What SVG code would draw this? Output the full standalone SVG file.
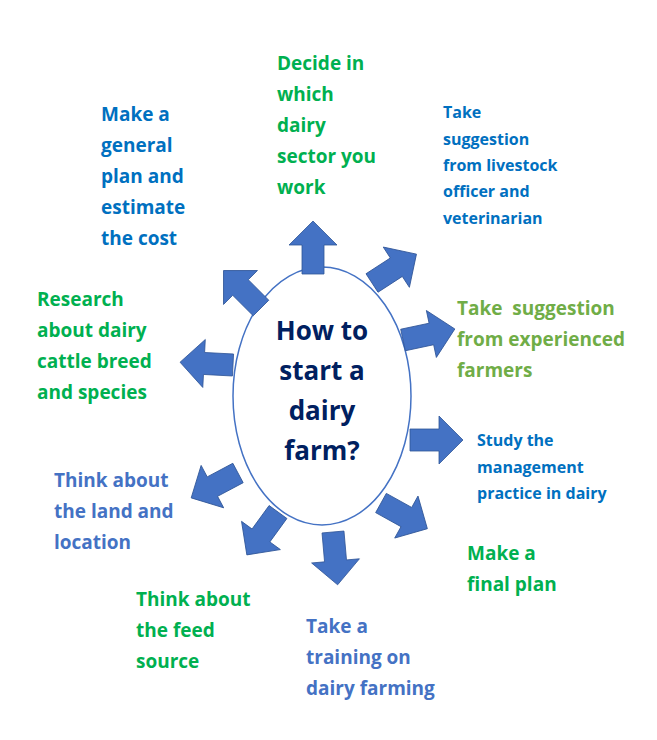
<svg xmlns="http://www.w3.org/2000/svg" width="657" height="740" viewBox="0 0 657 740">
<defs>
<polygon id="arr" points="0,-11 29,-11 29,-24 53,0 29,24 29,11 0,11"/>
<style>
text{font-family:"Open Sans","Liberation Sans",sans-serif;font-weight:bold}
.l{font-size:19px}.s{font-size:16px}
.b{fill:#0070C0}.g{fill:#00B050}.lg{fill:#70AD47}.sb{fill:#4472C4}
.a{fill:#4472C4;stroke:#2F5597;stroke-width:0.8}
</style>
</defs>
<rect width="657" height="740" fill="#fff"/>
<g id="center">
<ellipse cx="322" cy="396" rx="89" ry="129" fill="#fff" stroke="#4472C4" stroke-width="1.5"/>
<text x="322" y="340" text-anchor="middle" font-size="26" fill="#002060">How to</text>
<text x="322" y="380" text-anchor="middle" font-size="26" fill="#002060">start a</text>
<text x="322" y="420" text-anchor="middle" font-size="26" fill="#002060">dairy</text>
<text x="322" y="460" text-anchor="middle" font-size="26" fill="#002060">farm?</text>
</g>
<g id="connectors">
<use href="#arr" class="a" transform="translate(313,274) rotate(-90)"/>
<use href="#arr" class="a" transform="translate(372,283) rotate(-33)"/>
<use href="#arr" class="a" transform="translate(403,340) rotate(-12)"/>
<use href="#arr" class="a" transform="translate(410,440)"/>
<use href="#arr" class="a" transform="translate(381,503) rotate(29)"/>
<use href="#arr" class="a" transform="translate(333,532) rotate(85)"/>
<use href="#arr" class="a" transform="translate(278,512) rotate(126)"/>
<use href="#arr" class="a" transform="translate(238,473) rotate(152)"/>
<use href="#arr" class="a" transform="translate(233,365) rotate(183)"/>
<use href="#arr" class="a" transform="translate(261,308) rotate(225)"/>
</g>
<g id="n1"><text class="l g" x="277"><tspan x="277" y="70">Decide in</tspan><tspan x="277" y="101">which</tspan><tspan x="277" y="132">dairy</tspan><tspan x="277" y="163">sector you</tspan><tspan x="277" y="194">work</tspan></text></g>
<g id="n2"><text class="l b"><tspan x="101" y="121">Make a</tspan><tspan x="101" y="152">general</tspan><tspan x="101" y="183">plan and</tspan><tspan x="101" y="214">estimate</tspan><tspan x="101" y="245">the cost</tspan></text></g>
<g id="n3"><text class="s b"><tspan x="443" y="118">Take</tspan><tspan x="443" y="145">suggestion</tspan><tspan x="443" y="171">from livestock</tspan><tspan x="443" y="197">officer and</tspan><tspan x="443" y="224">veterinarian</tspan></text></g>
<g id="n4"><text class="l g"><tspan x="37" y="306">Research</tspan><tspan x="37" y="337">about dairy</tspan><tspan x="37" y="368">cattle breed</tspan><tspan x="37" y="399">and species</tspan></text></g>
<g id="n5"><text class="l lg"><tspan x="457" y="315" xml:space="preserve">Take  suggestion</tspan><tspan x="457" y="346">from experienced</tspan><tspan x="457" y="377">farmers</tspan></text></g>
<g id="n6"><text class="s b"><tspan x="477" y="446">Study the</tspan><tspan x="477" y="473">management</tspan><tspan x="477" y="499">practice in dairy</tspan></text></g>
<g id="n7"><text class="l sb"><tspan x="54" y="487">Think about</tspan><tspan x="54" y="518">the land and</tspan><tspan x="54" y="549">location</tspan></text></g>
<g id="n8"><text class="l g"><tspan x="467" y="560">Make a</tspan><tspan x="467" y="591">final plan</tspan></text></g>
<g id="n9"><text class="l g"><tspan x="136" y="606">Think about</tspan><tspan x="136" y="637">the feed</tspan><tspan x="136" y="668">source</tspan></text></g>
<g id="n10"><text class="l sb"><tspan x="306" y="633">Take a</tspan><tspan x="306" y="664">training on</tspan><tspan x="306" y="695">dairy farming</tspan></text></g>
</svg>
